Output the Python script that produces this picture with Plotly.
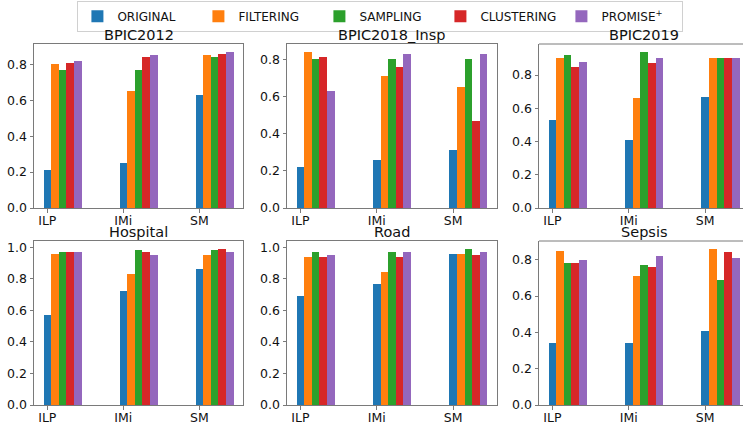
import plotly.graph_objects as go
from plotly.subplots import make_subplots

methods = ["ILP", "IMi", "SM"]
series_names = ["ORIGINAL", "FILTERING", "SAMPLING", "CLUSTERING", "PROMISE<sup>+</sup>"]
colors = ["#1f77b4", "#ff7f0e", "#2ca02c", "#d62728", "#9467bd"]
datasets = ["BPIC2012", "BPIC2018_Insp", "BPIC2019", "Hospital", "Road", "Sepsis"]

# values[dataset][series] -> per method (ILP, IMi, SM)
bpic2012 = {
    "ORIGINAL":   [0.21, 0.25, 0.63],
    "FILTERING":  [0.80, 0.65, 0.85],
    "SAMPLING":   [0.77, 0.77, 0.84],
    "CLUSTERING": [0.81, 0.84, 0.86],
    "PROMISE":    [0.82, 0.85, 0.87],
}
bpic2018 = {
    "ORIGINAL":   [0.22, 0.26, 0.31],
    "FILTERING":  [0.84, 0.71, 0.65],
    "SAMPLING":   [0.80, 0.80, 0.80],
    "CLUSTERING": [0.81, 0.76, 0.47],
    "PROMISE":    [0.63, 0.83, 0.83],
}
bpic2019 = {
    "ORIGINAL":   [0.53, 0.41, 0.67],
    "FILTERING":  [0.90, 0.66, 0.90],
    "SAMPLING":   [0.92, 0.94, 0.90],
    "CLUSTERING": [0.85, 0.87, 0.90],
    "PROMISE":    [0.88, 0.90, 0.90],
}
hospital = {
    "ORIGINAL":   [0.57, 0.72, 0.86],
    "FILTERING":  [0.96, 0.83, 0.95],
    "SAMPLING":   [0.97, 0.98, 0.98],
    "CLUSTERING": [0.97, 0.97, 0.99],
    "PROMISE":    [0.97, 0.95, 0.97],
}
road = {
    "ORIGINAL":   [0.69, 0.77, 0.96],
    "FILTERING":  [0.94, 0.84, 0.96],
    "SAMPLING":   [0.97, 0.97, 0.99],
    "CLUSTERING": [0.94, 0.94, 0.95],
    "PROMISE":    [0.95, 0.97, 0.97],
}
sepsis = {
    "ORIGINAL":   [0.34, 0.34, 0.41],
    "FILTERING":  [0.85, 0.71, 0.86],
    "SAMPLING":   [0.78, 0.77, 0.69],
    "CLUSTERING": [0.78, 0.76, 0.84],
    "PROMISE":    [0.80, 0.82, 0.81],
}
all_data = [bpic2012, bpic2018, bpic2019, hospital, road, sepsis]
series_keys = ["ORIGINAL", "FILTERING", "SAMPLING", "CLUSTERING", "PROMISE"]

W, H = 743, 424
bar_w = 0.1

fig = make_subplots(rows=2, cols=3)

for d_idx, data in enumerate(all_data):
    r = d_idx // 3 + 1
    c = d_idx % 3 + 1
    for k, key in enumerate(series_keys):
        fig.add_trace(
            go.Bar(
                x=[i + k * bar_w for i in range(len(methods))],
                y=data[key],
                width=bar_w,
                marker=dict(color=colors[k], line=dict(width=0)),
                name=series_names[k],
                legendgroup=key,
                showlegend=(d_idx == 0),
            ),
            row=r, col=c,
        )

# layout geometry (pixels)
col_px = [(34, 243), (287, 497), (539, 743)]
row_px = [(44, 208), (241, 405)]
px_per_unit = 76.4

font_family = "DejaVu Sans"
line_col = "#7a7a7a"

annotations = []
for d_idx, data in enumerate(all_data):
    r = d_idx // 3
    c = d_idx % 3
    ax_n = d_idx + 1
    xa = "xaxis" if ax_n == 1 else f"xaxis{ax_n}"
    ya = "yaxis" if ax_n == 1 else f"yaxis{ax_n}"
    x0, x1 = col_px[c]
    y0, y1 = row_px[r]
    width_units = (x1 - x0) / px_per_unit
    xmin = -bar_w / 2 - 0.125
    xmax = xmin + width_units if c == 2 else 2 + 4.5 * bar_w + 0.125
    vmax = max(max(v) for v in data.values())
    ymax = vmax * 1.05
    yticks = [t / 10 for t in range(0, 11, 2) if t / 10 <= ymax]
    fig.layout[xa].update(
        domain=[x0 / W, x1 / W],
        range=[xmin, xmax],
        tickvals=list(range(len(methods))),
        ticktext=methods,
        showgrid=False, zeroline=False,
        showline=True, linecolor=line_col, linewidth=1,
        mirror=(c != 2),
        ticks="outside", ticklen=3.5, tickcolor=line_col,
        ticklabelstandoff=-3,
        tickfont=dict(family=font_family, size=12.5, color="#111111"),
        fixedrange=True, automargin=False,
    )
    fig.layout[ya].update(
        domain=[1 - y1 / H, 1 - y0 / H],
        range=[0, ymax],
        tickvals=yticks,
        ticktext=[f"{t:.1f}" for t in yticks],
        showgrid=False, zeroline=False,
        showline=True, linecolor=line_col, linewidth=1,
        mirror=(c != 2),
        ticks="outside", ticklen=3.5, tickcolor=line_col,
        tickfont=dict(family=font_family, size=12.5, color="#111111"),
        fixedrange=True, automargin=False,
    )
    if c == 2:
        fig.add_shape(type="line", xref="paper", yref="paper",
                      x0=x0 / W, x1=1, y0=1 - y0 / H, y1=1 - y0 / H,
                      line=dict(color=line_col, width=1))
    annotations.append(dict(
        text=datasets[d_idx], x=(x0 + 104.5) / W, y=1 - y0 / H,
        xref="paper", yref="paper", xanchor="center", yanchor="bottom",
        showarrow=False, borderpad=0,
        font=dict(family=font_family, size=14.5, color="#111111"),
    ))

fig.update_layout(
    width=W, height=H,
    margin=dict(l=0, r=0, t=0, b=0, autoexpand=False),
    paper_bgcolor="white", plot_bgcolor="white",
    barmode="overlay",
    bargap=0,
    annotations=annotations,
    font=dict(family=font_family, color="#111111"),
    legend=dict(
        orientation="h", x=0.512, xanchor="center", y=0.998, yanchor="top",
        bordercolor="#d0d0d0", borderwidth=1,
        font=dict(family=font_family, size=12, color="#111111"),
        entrywidth=76, entrywidthmode="pixels",
        itemsizing="constant",
    ),
)

fig.write_html(
    "out.html",
    config={"displayModeBar": False},
    post_script="document.body.style.margin='0';document.body.style.padding='0';",
)
